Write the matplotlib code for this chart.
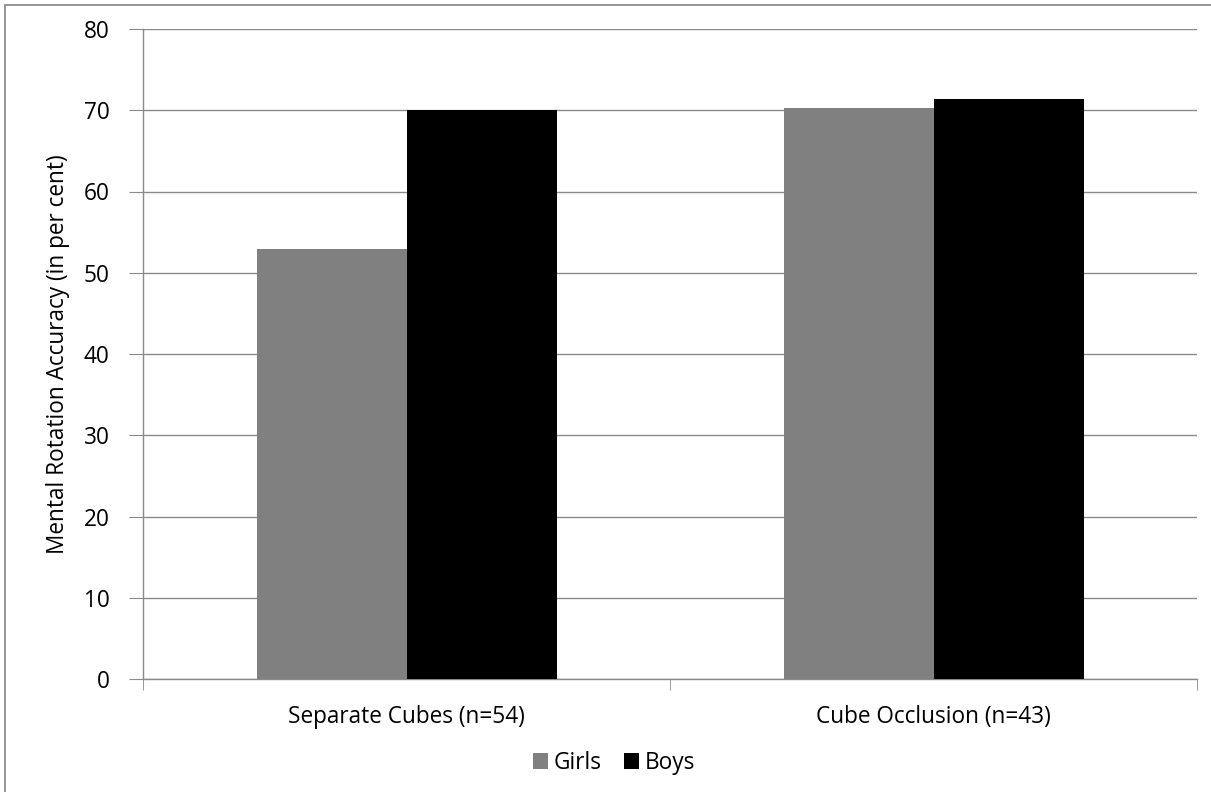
import matplotlib
matplotlib.use("Agg")
import matplotlib.pyplot as plt
from matplotlib.patches import Rectangle
import numpy as np

categories = ["Separate Cubes (n=54)", "Cube Occlusion (n=43)"]
series_names = ["Girls", "Boys"]
girls = [52.9, 70.3]
boys = [70.0, 71.4]
y_ticks = [0, 10, 20, 30, 40, 50, 60, 70, 80]

W, H = 1211, 792
FS = 16.3
plt.rcParams["font.family"] = ["Open Sans", "DejaVu Sans"]
fig = plt.figure(figsize=(W / 100, H / 100), dpi=100)

# outer chart frame (only top/left edges fall inside the canvas)
fig.patches.append(Rectangle((5 / W, -0.1), 1.2, 1 - 4.5 / H + 0.1,
                             transform=fig.transFigure, fill=False,
                             edgecolor="#8c8c8c", linewidth=1.3))

ax = fig.add_axes([143 / W, 1 - 679 / H, (1197 - 143) / W, (679 - 29) / H])

grid_col = "#8a8a8a"
x = np.arange(len(categories))
bw = 150 / 527
ax.bar(x - bw / 2, girls, width=bw, color="#808080", label=series_names[0], zorder=3)
ax.bar(x + bw / 2, boys, width=bw, color="#000000", label=series_names[1], zorder=3)

ax.set_xlim(-0.5, len(categories) - 0.5)
ax.set_ylim(0, 80)
ax.set_yticks(y_ticks)
ax.yaxis.grid(True, color=grid_col, linewidth=1.0, zorder=0)
ax.set_axisbelow(True)

for s in ["top", "right"]:
    ax.spines[s].set_visible(False)
for s in ["left", "bottom"]:
    ax.spines[s].set_color(grid_col)
    ax.spines[s].set_linewidth(1.0)

ax.tick_params(axis="y", length=10, color=grid_col, labelsize=FS, pad=14)
ax.set_xticks(x)
ax.set_xticklabels(categories)
# category boundary ticks on the x axis
ax.set_xticks([-0.5, 0.5, 1.5], minor=True)
ax.tick_params(axis="x", which="major", length=0, labelsize=FS, pad=19)
ax.tick_params(axis="x", which="minor", length=8, color=grid_col)

fig.text(58 / W, 1 - 354 / H, "Mental Rotation Accuracy (in per cent)",
         rotation=90, ha="center", va="center", fontsize=FS)

leg = fig.legend(loc="center", bbox_to_anchor=(614 / W, 1 - 763 / H), ncol=2,
                 frameon=False, fontsize=FS, handlelength=0.65, handleheight=0.65,
                 handletextpad=0.25, columnspacing=1.0)

fig.savefig("out.png", dpi=100, facecolor="white")
